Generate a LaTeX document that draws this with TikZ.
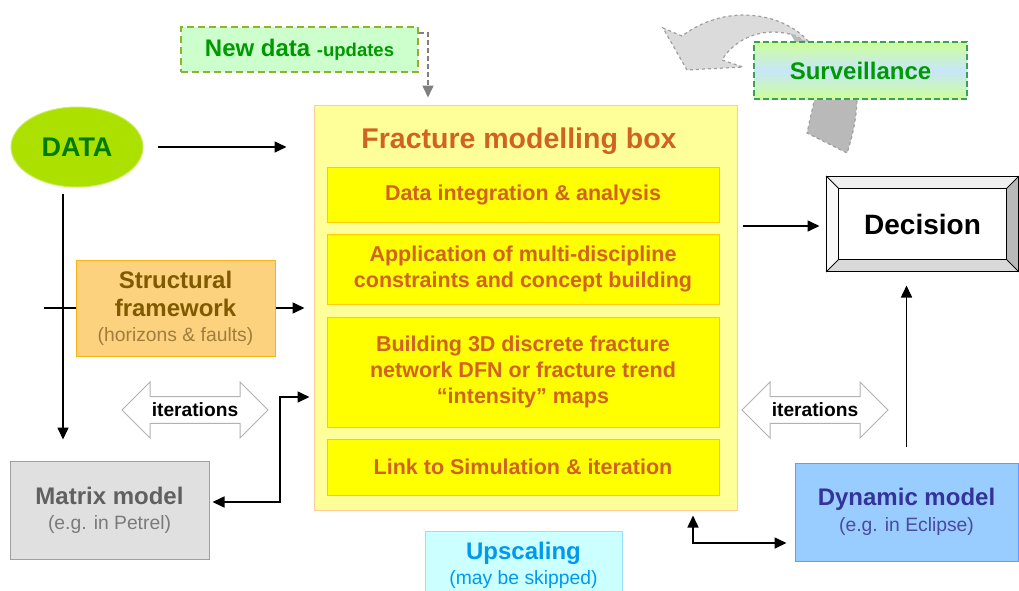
\documentclass[tikz,border=0pt]{standalone}
\usepackage{fontspec}
\setmainfont{Liberation Sans}
\usetikzlibrary{shapes.geometric,shapes.arrows,arrows.meta}

\definecolor{fmtext}{RGB}{208,98,36}
\definecolor{fmfill}{RGB}{255,255,153}
\definecolor{fmline}{RGB}{255,204,153}
\definecolor{stepfill}{RGB}{255,255,0}
\definecolor{stepline}{RGB}{255,204,0}
\definecolor{datafill}{RGB}{172,224,0}
\definecolor{dataline}{RGB}{200,236,90}
\definecolor{datatext}{RGB}{0,125,0}
\definecolor{newgreen}{RGB}{0,153,0}
\definecolor{newfill}{RGB}{204,255,204}
\definecolor{newline}{RGB}{140,180,40}
\definecolor{survline}{RGB}{60,160,90}
\definecolor{survtop}{RGB}{204,255,153}
\definecolor{survmid}{RGB}{200,230,250}
\definecolor{strfill}{RGB}{252,210,127}
\definecolor{strline}{RGB}{245,180,20}
\definecolor{strtext}{RGB}{127,90,0}
\definecolor{strsub}{RGB}{160,125,60}
\definecolor{matfill}{RGB}{224,224,224}
\definecolor{matline}{RGB}{160,160,160}
\definecolor{mattext}{RGB}{96,96,96}
\definecolor{matsub}{RGB}{122,122,122}
\definecolor{dynfill}{RGB}{153,204,255}
\definecolor{dynline}{RGB}{102,153,255}
\definecolor{dyntext}{RGB}{51,51,153}
\definecolor{dynsub}{RGB}{74,74,160}
\definecolor{upfill}{RGB}{204,255,255}
\definecolor{upline}{RGB}{153,221,255}
\definecolor{uptext}{RGB}{0,153,238}

\newcommand\fmfont{\fontsize{21.5}{26}\selectfont\bfseries}
\newcommand\headfont{\fontsize{24}{28}\selectfont\bfseries}
\newcommand\subfont[1]{{\fontsize{19.3}{22}\selectfont\mdseries #1}}

\begin{document}
\begin{tikzpicture}
[x=1pt,y=-1pt,%
  every node/.style={inner sep=0pt,align=center},%
  box/.style={rectangle,draw,line width=1pt},%
  fmstep/.style={box,fill=stepfill,draw=stepline,minimum width=392pt,text=fmtext,font=\fmfont},%
  conn/.style={-{Triangle[length=12pt,width=11pt]},line width=1.6pt},%
  dconn/.style={{Triangle[length=12pt,width=11pt]}-{Triangle[length=12pt,width=11pt]},line width=1.6pt},%
  iter/.style={double arrow,draw=gray!60,fill=white,line width=1pt,%
    minimum height=146pt,minimum width=56pt,inner xsep=6pt,inner ysep=4.5pt,%
    double arrow head extend=13pt,font=\fontsize{19.2}{22}\selectfont\bfseries},%
  curlarrow/.style={draw=gray!75,dashed,line width=1.2pt}]
\useasboundingbox (0,0) rectangle (1019,590);
\clip (0,0) rectangle (1019,590);
\fill[white] (0,0) rectangle (1019,590);

\node[box,fill=fmfill,draw=fmline,minimum width=423pt,minimum height=405pt] (frac) at (525.5,307.5) {};
\node[text=fmtext,font=\fontsize{28.5}{32}\selectfont\bfseries] (fmtitle) at (519,141) {Fracture modelling box};
\node[fmstep,minimum height=55pt] (fmdata) at (523,194.5) {Data integration \& analysis};
\node[fmstep,minimum height=70pt] (fmconcept) at (523,269) {Application of multi-discipline\\constraints and concept building};
\node[fmstep,minimum height=110pt] (fmdfn) at (523,372) {Building 3D discrete fracture\\network DFN or fracture trend\\“intensity” maps};
\node[fmstep,minimum height=56pt] (fmlink) at (523,467) {Link to Simulation \& iteration};

\node[box,dashed,dash pattern=on 7pt off 4pt,line width=1.6pt,fill=newfill,draw=newline,minimum width=237pt,minimum height=45pt,
  text=newgreen,font=\headfont] (newdata) at (299.5,49.5) {New data {\fontsize{18.5}{22}\selectfont-updates}};

\filldraw[curlarrow,fill=gray!28] (812,46) .. controls (790,15) and (730,0) .. (682,36) -- (663,28) -- (687,70) -- (743,67) -- (722,60)
  .. controls (735,38) and (765,25) .. (796,36) -- cycle;
\fill[gray!55] (790,33) -- (812,45) -- (797,45) -- cycle;
\filldraw[curlarrow,fill=gray!55] (815,97) -- (807,133) -- (847,153) .. controls (853,135) and (857,115) .. (857,97);
\node[box,dashed,dash pattern=on 6pt off 3pt,line width=1.4pt,draw=survline,top color=survtop,bottom color=survtop,middle color=survmid,
  minimum width=213pt,minimum height=57pt,text=newgreen,font=\headfont] (surv) at (860.5,70.5) {Surveillance};

\node[ellipse,draw=dataline,fill=datafill,line width=1pt,minimum width=132pt,minimum height=80pt,
  text=datatext,font=\fontsize{27}{30}\selectfont\bfseries] (data) at (77,147) {DATA};

\node[box,fill=strfill,draw=strline,minimum width=199pt,minimum height=96pt,text=strtext,font=\headfont] (struct) at (175.5,308)
  {Structural\\framework\\[-3pt]\subfont{\color{strsub}(horizons \& faults)}};

\node[box,fill=matfill,draw=matline,minimum width=199pt,minimum height=98pt,text=mattext,font=\headfont] (matrix) at (109.5,510)
  {Matrix model\\[-3pt]\subfont{\color{matsub}(e.g. in Petrel)}};

\node[box,fill=dynfill,draw=dynline,minimum width=223pt,minimum height=98pt,text=dyntext,font=\headfont] (dynamic) at (906.5,512)
  {Dynamic model\\[-2pt]\subfont{\color{dynsub}(e.g. in Eclipse)}};

\node[box,fill=upfill,draw=upline,minimum width=197pt,minimum height=69pt,text=uptext,font=\headfont] (upscale) at (523.5,565.5)
  {Upscaling\\[-3pt]\subfont{(may be skipped)}};

\node[iter] (iterL) at (195,410) {iterations};
\node[iter] (iterR) at (815,410) {iterations};

\node[draw=black,line width=1pt,fill=white,minimum width=191pt,minimum height=94pt] (decision) at (922.5,224) {};
\coordinate (dA) at ([shift={(12,12)}]decision.north west);
\coordinate (dB) at ([shift={(-12,12)}]decision.north east);
\coordinate (dC) at ([shift={(-12,-12)}]decision.south east);
\coordinate (dD) at ([shift={(12,-12)}]decision.south west);
\filldraw[fill=gray!12,line width=.7pt] (decision.north west) -- (decision.north east) -- (dB) -- (dA) -- cycle;
\filldraw[fill=gray!5,line width=.7pt] (decision.north west) -- (dA) -- (dD) -- (decision.south west) -- cycle;
\filldraw[fill=gray!30,line width=.7pt] (decision.south west) -- (dD) -- (dC) -- (decision.south east) -- cycle;
\filldraw[fill=gray!55,line width=.7pt] (decision.north east) -- (dB) -- (dC) -- (decision.south east) -- cycle;
\draw[line width=1pt] (decision.north west) rectangle (decision.south east);
\node[font=\fontsize{28}{32}\selectfont\bfseries] (dectext) at (decision) {Decision};

\draw[conn,shorten <=14pt,shorten >=27pt] (data) -- (data -| frac.west);
\draw[conn,shorten <=6pt,shorten >=21pt] ([xshift=-14pt]data.south) -- ([xshift=-14pt]data.south |- matrix.north);
\draw[line width=1.6pt] ([xshift=-32pt]struct.west) -- (struct.west);
\draw[conn,shorten >=9pt] (struct.east) -- (struct.east -| frac.west);
\draw[dconn,shorten <=3pt,shorten >=4pt] ([yshift=8pt]matrix.east) -| (280,397) -- (frac.west |- 0,397);
\draw[conn,shorten <=5pt,shorten >=7pt] (frac.east |- 0,226) -- (decision.west |- 0,226);
\draw[conn,shorten <=16pt,shorten >=14pt] (dynamic.north) -- (dynamic.north |- decision.south);
\draw[dconn,shorten <=5pt,shorten >=8pt] (frac.south -| 693,0) |- (dynamic.west |- 0,543);
\draw[-{Triangle[length=12pt,width=11pt]},black!50,dash pattern=on 5pt off 3pt,line width=1.6pt,shorten >=7pt]
  ([yshift=-7pt]newdata.north east) -| (frac.north -| 428,0);
\end{tikzpicture}
\end{document}
